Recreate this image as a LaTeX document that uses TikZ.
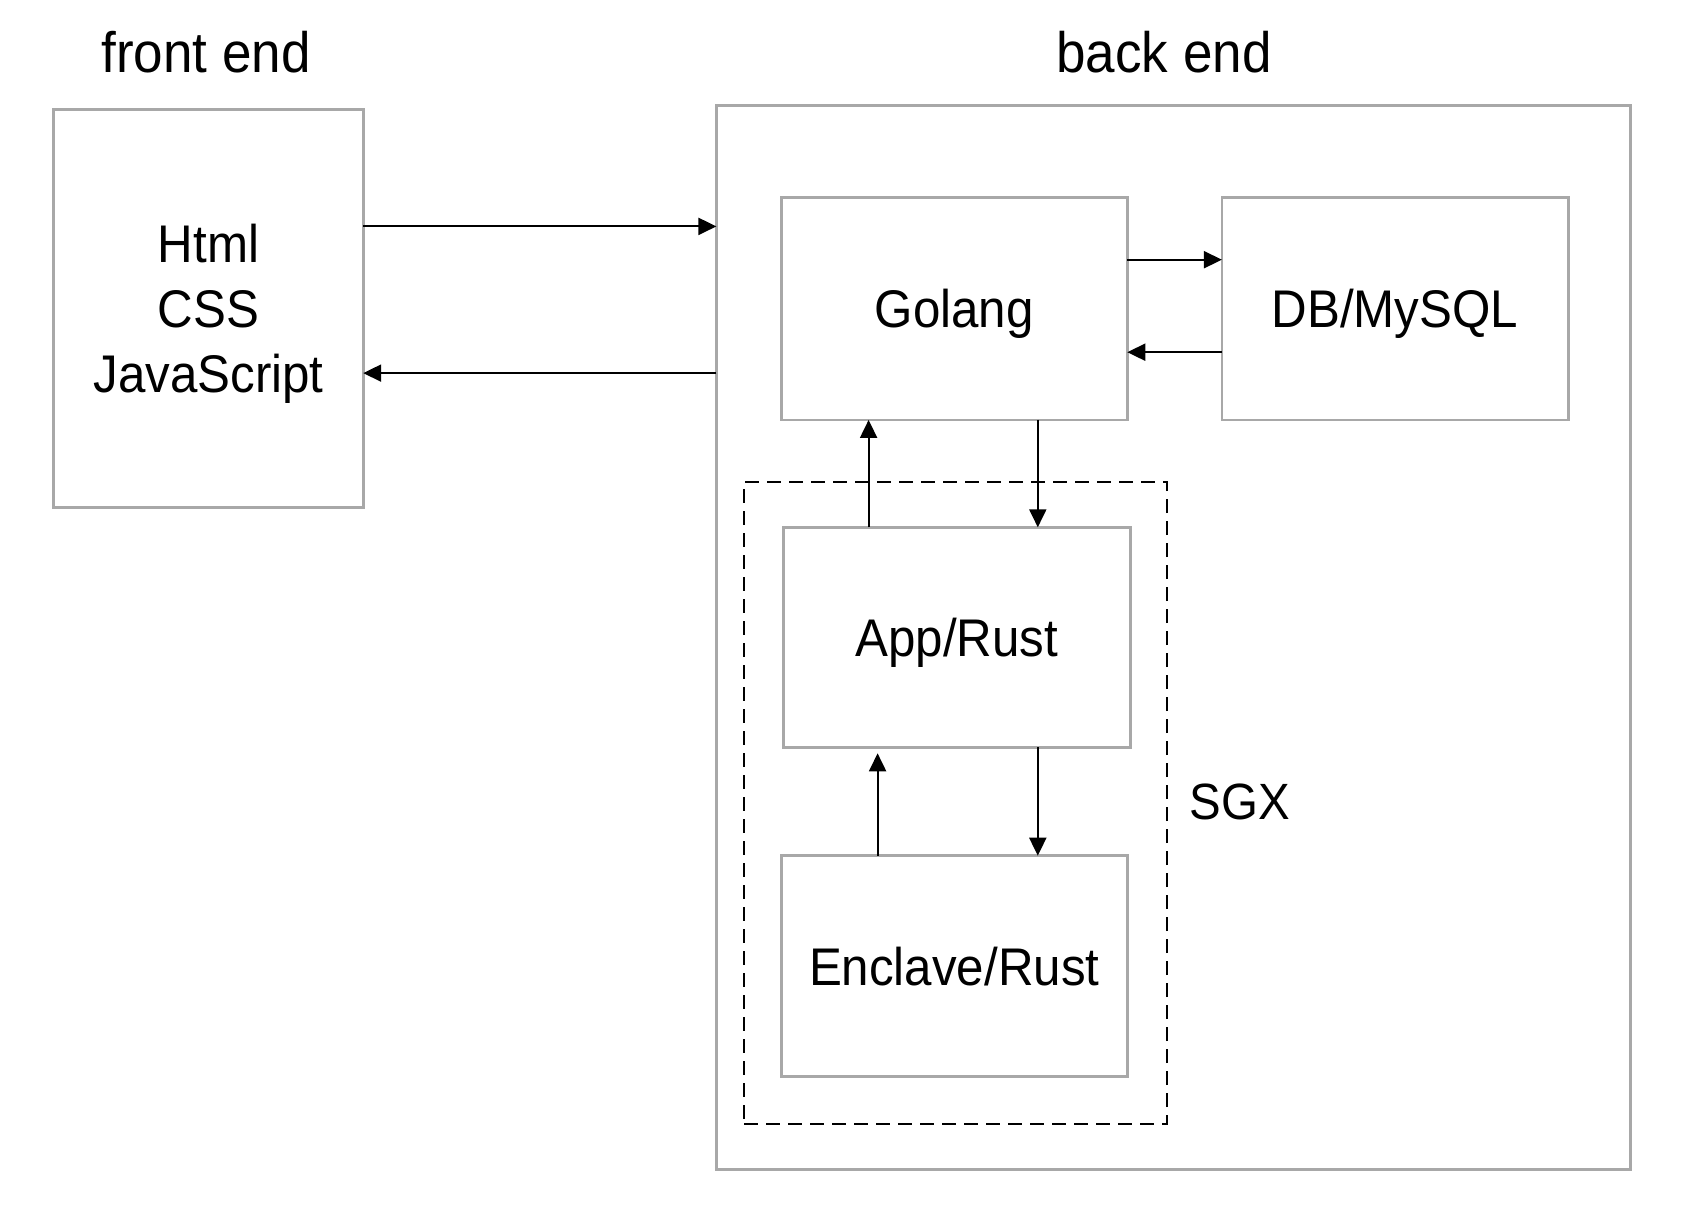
\documentclass[tikz,border=0pt]{standalone}
\usepackage{fontspec}
\setmainfont[FakeStretch=0.93]{Liberation Sans}
\usetikzlibrary{arrows.meta}
\definecolor{boxgray}{HTML}{A8A8A8}
\begin{document}
\begin{tikzpicture}[x=0.5pt,y=-0.5pt,
  box/.style={draw=boxgray,line width=1.4pt,inner sep=0pt,outer sep=0pt,align=center,
    text depth=0pt,font=\fontsize{26.5}{32.5}\selectfont},
  lbl/.style={inner sep=0pt,font=\fontsize{28.5}{32.5}\selectfont},
  sgxlbl/.style={inner sep=0pt,font=\fontsize{25.5}{32.5}\selectfont},
  arr/.style={draw=black,line width=1pt,-{Triangle[length=9pt,width=8.5pt]}},
  sgxbox/.style={draw=black,line width=1pt,dash pattern=on 7pt off 4pt,inner sep=0pt,outer sep=0pt}]
\useasboundingbox (0,0) rectangle (1682,1210);
\node[lbl] (fe) at (206,52) {front end};
\node[lbl] (be) at (1164,52) {back end};
\node[box,minimum width=154.7pt,minimum height=199pt] (front) at (208.5,308.5)
  {Html\\CSS\\JavaScript};
\node[box,minimum width=457.2pt,minimum height=531.8pt] (back) at (1173.6,637.3) {};
\node[sgxbox,minimum width=211.4pt,minimum height=321.4pt] (sgx) at (955.7,803) {};
\node[box,minimum width=173.1pt,minimum height=111.4pt] (golang) at (954.2,308.5) {Golang};
\node[box,minimum width=173.1pt,minimum height=111.4pt] (db) at (1395,308.5) {DB/MySQL};
\node[box,minimum width=173.6pt,minimum height=110pt] (app) at (956.7,637.3) {App/Rust};
\node[box,minimum width=173.1pt,minimum height=110.4pt] (enclave) at (954.2,966.1) {Enclave/Rust};
\node[sgxlbl] (sgxl) at (1240,802) {SGX};
% front <-> back
\draw[arr] (front.east |- 0,226.4) -- (back.west |- 0,226.4);
\draw[arr] (back.west |- 0,373.1) -- (front.east |- 0,373.1);
% golang <-> db
\draw[arr] (golang.east |- 0,259.7) -- (db.west |- 0,259.7);
\draw[arr] (db.west |- 0,352.2) -- (golang.east |- 0,352.2);
% golang <-> app
\draw[arr] (app.north -| 868.6,0) -- (golang.south -| 868.6,0);
\draw[arr] (golang.south -| 1037.8,0) -- (app.north -| 1037.8,0);
% app <-> enclave
\draw[arr,shorten >=3pt] (enclave.north -| 877.6,0) -- (app.south -| 877.6,0);
\draw[arr] (app.south -| 1037.8,0) -- (enclave.north -| 1037.8,0);
\end{tikzpicture}
\end{document}
